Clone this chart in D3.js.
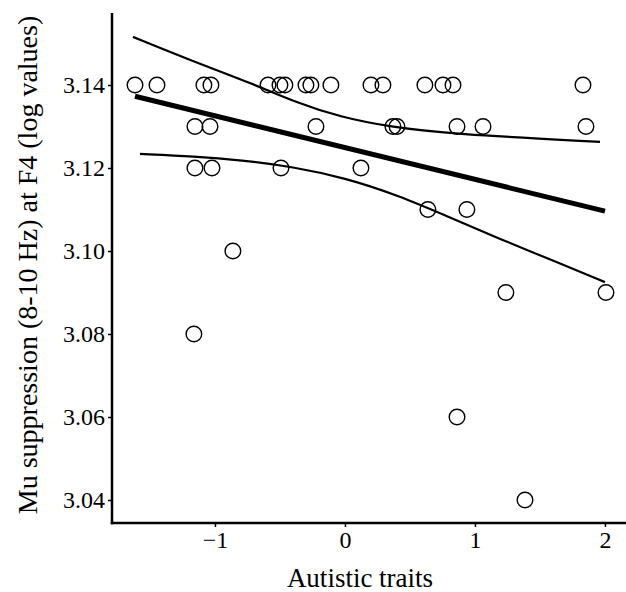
<!DOCTYPE html>
<html>
<head>
<meta charset="utf-8">
<script src="https://cdn.jsdelivr.net/npm/d3@7"></script>
<style>
  html, body { margin: 0; padding: 0; background: #fff; }
  svg { display: block; }
  text { font-family: "Liberation Serif", "Times New Roman", serif; fill: #000; }
</style>
</head>
<body>
<svg id="chart" width="626" height="592"></svg>
<script>
// Scatter points (autistic traits, mu suppression)
const traitValues = [
  -1.615, -1.446, -1.085, -1.031, -0.592, -0.500, -0.462, -0.300, -0.262, -0.108, 0.200, 0.292, 0.615, 0.754, 0.831, 1.831,
  -1.154, -1.038, -0.223, 0.369, 0.400, 0.862, 1.062, 1.854,
  -1.154, -1.023, -0.492, 0.123,
  0.638, 0.938,
  -0.862,
  1.238, 2.008,
  -1.162,
  0.862,
  1.385
];
const muValues = [
  3.14, 3.14, 3.14, 3.14, 3.14, 3.14, 3.14, 3.14, 3.14, 3.14, 3.14, 3.14, 3.14, 3.14, 3.14, 3.14,
  3.13, 3.13, 3.13, 3.13, 3.13, 3.13, 3.13, 3.13,
  3.12, 3.12, 3.12, 3.12,
  3.11, 3.11,
  3.10,
  3.09, 3.09,
  3.08,
  3.06,
  3.04
];
// Fitted regression line
const fitX = [-1.615, 2.0];
const fitY = [3.1373, 3.1096];
// Confidence bounds
const upperX = [-1.631, -1.192, -0.708, -0.369, -0.038, 0.346, 0.808, 1.962];
const upperY = [3.1516, 3.1460, 3.1403, 3.1357, 3.1323, 3.1299, 3.1282, 3.1263];
const lowerX = [-1.577, -1.154, -0.800, -0.400, 0.000, 0.400, 0.800, 1.192, 1.600, 2.000];
const lowerY = [3.1234, 3.1228, 3.1219, 3.1203, 3.1176, 3.1135, 3.1082, 3.1029, 3.0977, 3.0925];
// Ticks
const xTicks = [-1, 0, 1, 2];
const yTicks = [3.04, 3.06, 3.08, 3.10, 3.12, 3.14];
const xTitle = "Autistic traits";
const yTitle = "Mu suppression (8-10 Hz) at F4 (log values)";

const svg = d3.select("#chart");
const padL = 112, padR = 626, padT = 13, padB = 523;

const x = d3.scaleLinear().domain([-1.792, 2.162]).range([padL, padR]);
const y = d3.scaleLinear().domain([3.03446, 3.15735]).range([padB, padT]);

// Axes
const xAxis = d3.axisBottom(x).tickValues(xTicks).tickSize(4).tickPadding(4)
  .tickFormat(d => d < 0 ? "\u2212" + Math.abs(d) : String(d));
const yAxis = d3.axisLeft(y).tickValues(yTicks).tickSize(4).tickPadding(3)
  .tickFormat(d3.format(".2f"));

const gx = svg.append("g").attr("transform", `translate(0,${padB})`).call(xAxis);
const gy = svg.append("g").attr("transform", `translate(${padL},0)`).call(yAxis);
[gx, gy].forEach(g => {
  g.select(".domain").remove();
  g.selectAll(".tick line").attr("stroke", "#000").attr("stroke-width", 1.5);
  g.selectAll(".tick text").attr("font-size", 24)
    .attr("font-family", "'Liberation Serif', 'Times New Roman', serif").attr("fill", "#000");
});
// axis lines
svg.append("line").attr("x1", padL).attr("x2", padL).attr("y1", padT).attr("y2", padB + 1.25)
  .attr("stroke", "#000").attr("stroke-width", 2.5);
svg.append("line").attr("x1", padL - 1.25).attr("x2", padR).attr("y1", padB).attr("y2", padB)
  .attr("stroke", "#000").attr("stroke-width", 2.5);

// Confidence curves
const curveLine = d3.line().x(d => x(d[0])).y(d => y(d[1])).curve(d3.curveBasis);
svg.append("path").datum(d3.zip(upperX, upperY)).attr("d", curveLine)
  .attr("fill", "none").attr("stroke", "#000").attr("stroke-width", 2.2);
svg.append("path").datum(d3.zip(lowerX, lowerY)).attr("d", curveLine)
  .attr("fill", "none").attr("stroke", "#000").attr("stroke-width", 2.2);

// Points
svg.append("g").selectAll("circle").data(d3.zip(traitValues, muValues)).join("circle")
  .attr("cx", d => x(d[0])).attr("cy", d => y(d[1])).attr("r", 7.8)
  .attr("fill", "none").attr("stroke", "#000").attr("stroke-width", 1.4);

// Regression line
svg.append("path").datum(d3.zip(fitX, fitY)).attr("d", d3.line().x(d => x(d[0])).y(d => y(d[1])))
  .attr("fill", "none").attr("stroke", "#000").attr("stroke-width", 5);

// Titles
svg.append("text").attr("x", (padL + padR) / 2 - 9).attr("y", 587).attr("text-anchor", "middle")
  .attr("font-size", 27).text(xTitle);
svg.append("text").attr("transform", `translate(37,265) rotate(-90)`).attr("text-anchor", "middle")
  .attr("font-size", 28).text(yTitle);
</script>
</body>
</html>
